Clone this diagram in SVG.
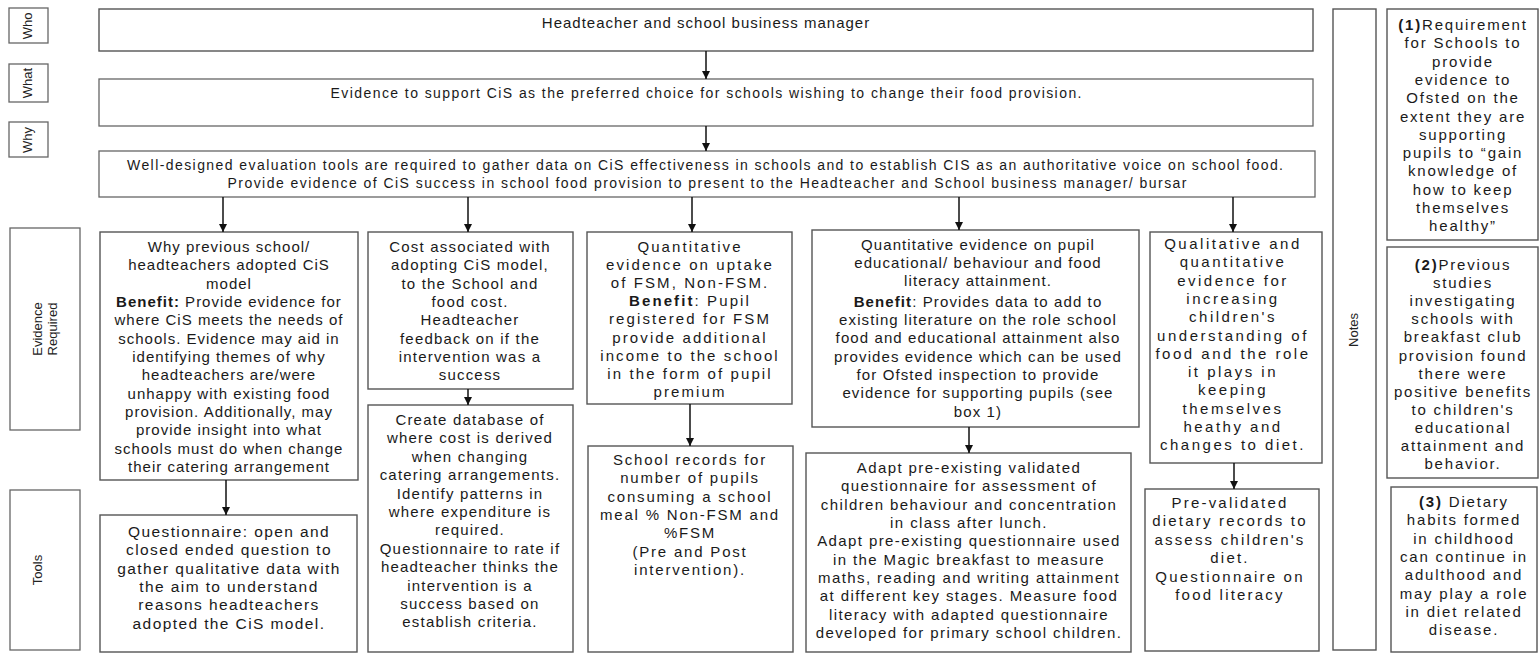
<svg xmlns="http://www.w3.org/2000/svg" width="1539" height="653" viewBox="0 0 1539 653">
<style>
.bg{fill:#fff}
.box{fill:#fff;stroke:#555;stroke-width:1.4}
.lbox{fill:#fff;stroke:#666;stroke-width:1.3}
.lt{font-family:"Liberation Sans Narrow","Liberation Sans",Arial,sans-serif;font-size:13px;fill:#222;text-anchor:middle}
.t{font-family:"Liberation Sans",Arial,sans-serif;font-size:15px;fill:#1a1a1a;text-anchor:middle;letter-spacing:1px}
.b{font-weight:bold}
.conn{stroke:#111;stroke-width:1.5;fill:none;marker-end:url(#ah)}
</style>
<defs>
<marker id="ah" viewBox="0 0 10 10" refX="10" refY="5" markerWidth="8" markerHeight="8" markerUnits="userSpaceOnUse" orient="auto">
<path d="M0,0 L10,5 L0,10 z" fill="#111"/>
</marker>
</defs>
<rect class="bg" x="0" y="0" width="1539" height="653"/>

<g id="label-who"><rect class="lbox" x="9" y="8" width="39" height="35"/><text class="lt" transform="translate(32,26) rotate(-90)">Who</text></g>
<g id="label-what"><rect class="lbox" x="9" y="64" width="39" height="38"/><text class="lt" transform="translate(32,83) rotate(-90)">What</text></g>
<g id="label-why"><rect class="lbox" x="9" y="122" width="39" height="35"/><text class="lt" transform="translate(32,140) rotate(-90)">Why</text></g>
<g id="label-evidence"><rect class="lbox" x="10" y="228" width="70" height="202"/><text class="lt" transform="translate(42,329) rotate(-90)">Evidence</text><text class="lt" transform="translate(57,329) rotate(-90)">Required</text></g>
<g id="label-tools"><rect class="lbox" x="10" y="490" width="70" height="160"/><text class="lt" transform="translate(42,570) rotate(-90)">Tools</text></g>

<g id="who"><rect class="box" x="99" y="9" width="1214" height="42"/><text class="t" x="706" y="28">Headteacher and school business manager</text></g>
<g id="what"><rect class="lbox" x="99" y="79" width="1214" height="47"/><text class="t" x="706" y="98" style="font-size:14px;letter-spacing:0" textLength="751">Evidence to support CiS as the preferred choice for schools wishing to change their food provision.</text></g>
<g id="why"><rect class="lbox" x="99" y="151" width="1216" height="46"/>
<text class="t" x="705" y="170" style="font-size:14px;letter-spacing:0" textLength="1156">Well-designed evaluation tools are required to gather data on CiS effectiveness in schools and to establish CIS as an authoritative  voice on school food.</text>
<text class="t" x="707" y="188" style="font-size:14px;letter-spacing:0" textLength="959">Provide evidence of CiS success in school food provision to present to the Headteacher and School business manager/ bursar</text></g>

<g id="ev1"><rect class="box" x="100" y="232" width="258" height="248"/>
<text class="t" x="229" y="252"><tspan x="229">Why previous school/</tspan><tspan x="229" dy="18.33">headteachers adopted CiS</tspan><tspan x="229" dy="18.33">model</tspan><tspan x="229" dy="18.33"><tspan class="b">Benefit:</tspan> Provide evidence for</tspan><tspan x="229" dy="18.33">where CiS meets the needs of</tspan><tspan x="229" dy="18.33">schools.  Evidence may aid in</tspan><tspan x="229" dy="18.33">identifying themes of why</tspan><tspan x="229" dy="18.33">headteachers are/were</tspan><tspan x="229" dy="18.33">unhappy with existing food</tspan><tspan x="229" dy="18.33">provision. Additionally, may</tspan><tspan x="229" dy="18.33">provide insight into what</tspan><tspan x="229" dy="18.33">schools must do when change</tspan><tspan x="229" dy="18.33">their catering arrangement</tspan></text></g>

<g id="tool1"><rect class="box" x="100" y="515" width="257" height="137"/>
<text class="t" x="229" y="537" style="font-size:15.5px;letter-spacing:1.4px"><tspan x="229">Questionnaire: open and</tspan><tspan x="229" dy="18.3">closed ended question to</tspan><tspan x="229" dy="18.3">gather qualitative data with</tspan><tspan x="229" dy="18.3">the aim to  understand</tspan><tspan x="229" dy="18.3">reasons headteachers</tspan><tspan x="229" dy="18.3">adopted the CiS model.</tspan></text></g>

<g id="ev2"><rect class="box" x="368" y="232" width="205" height="157"/>
<text class="t" x="470" y="252" style="letter-spacing:1.2px"><tspan x="470">Cost associated with</tspan><tspan x="470" dy="18.3">adopting CiS model,</tspan><tspan x="470" dy="18.3">to the School and</tspan><tspan x="470" dy="18.3">food cost.</tspan><tspan x="470" dy="18.3">Headteacher</tspan><tspan x="470" dy="18.3">feedback on if the</tspan><tspan x="470" dy="18.3">intervention was a</tspan><tspan x="470" dy="18.3">success</tspan></text></g>

<g id="tool2"><rect class="box" x="368" y="405" width="205" height="247"/>
<text class="t" x="470" y="425" style="letter-spacing:1.2px"><tspan x="470">Create database of</tspan><tspan x="470" dy="18.4">where cost is derived</tspan><tspan x="470" dy="18.4">when changing</tspan><tspan x="470" dy="18.4">catering arrangements.</tspan><tspan x="470" dy="18.4">Identify  patterns in</tspan><tspan x="470" dy="18.4">where expenditure is</tspan><tspan x="470" dy="18.4">required.</tspan><tspan x="470" dy="18.4">Questionnaire to rate if</tspan><tspan x="470" dy="18.4">headteacher thinks the</tspan><tspan x="470" dy="18.4">intervention is a</tspan><tspan x="470" dy="18.4">success based on</tspan><tspan x="470" dy="18.4">establish criteria.</tspan></text></g>

<g id="ev3"><rect class="box" x="587" y="232" width="205" height="172"/>
<text class="t" x="690" y="252" style="letter-spacing:2.1px"><tspan x="690">Quantitative</tspan><tspan x="690" dy="18.1">evidence on uptake</tspan><tspan x="690" dy="18.1">of FSM, Non-FSM.</tspan><tspan x="690" dy="18.1"><tspan class="b">Benefit</tspan>: Pupil</tspan><tspan x="690" dy="18.1">registered for FSM</tspan><tspan x="690" dy="18.1">provide additional</tspan><tspan x="690" dy="18.1">income to the school</tspan><tspan x="690" dy="18.1">in the form of pupil</tspan><tspan x="690" dy="18.1">premium</tspan></text></g>

<g id="tool3"><rect class="box" x="588" y="446" width="205" height="206"/>
<text class="t" x="690" y="465" style="letter-spacing:1.8px"><tspan x="690">School records for</tspan><tspan x="690" dy="18.3">number of pupils</tspan><tspan x="690" dy="18.3">consuming a school</tspan><tspan x="690" dy="18.3">meal % Non-FSM and</tspan><tspan x="690" dy="18.3">%FSM</tspan><tspan x="690" dy="18.3">(Pre and Post</tspan><tspan x="690" dy="18.3">intervention).</tspan></text></g>

<g id="ev4"><rect class="box" x="812" y="230" width="327" height="197"/>
<text class="t" x="978" y="250" style="letter-spacing:1.1px"><tspan x="978">Quantitative evidence on pupil</tspan><tspan x="978" dy="18.2">educational/ behaviour and food</tspan><tspan x="978" dy="18.2">literacy attainment.</tspan><tspan x="978" dy="20.5"><tspan class="b">Benefit</tspan>: Provides data to add to</tspan><tspan x="978" dy="18.2">existing literature on the role school</tspan><tspan x="978" dy="18.2">food and educational attainment also</tspan><tspan x="978" dy="18.4">provides evidence which can be used</tspan><tspan x="978" dy="18.2">for Ofsted inspection to provide</tspan><tspan x="978" dy="18.2">evidence for supporting pupils (see</tspan><tspan x="978" dy="18.6">box 1)</tspan></text></g>

<g id="tool4"><rect class="box" x="806" y="453" width="325" height="199"/>
<text class="t" x="969" y="473" style="letter-spacing:1.4px"><tspan x="969">Adapt pre-existing validated</tspan><tspan x="969" dy="18.3">questionnaire for assessment of</tspan><tspan x="969" dy="18.3">children behaviour and concentration</tspan><tspan x="969" dy="18.3">in class after lunch.</tspan><tspan x="969" dy="18.5">Adapt pre-existing questionnaire used</tspan><tspan x="969" dy="18.3">in the Magic breakfast to measure</tspan><tspan x="969" dy="18.3">maths, reading and writing attainment</tspan><tspan x="969" dy="18.3">at different key stages. Measure food</tspan><tspan x="969" dy="18.3">literacy with adapted questionnaire</tspan><tspan x="969" dy="18.3">developed for primary school children.</tspan></text></g>

<g id="ev5"><rect class="box" x="1150" y="232" width="172" height="231"/>
<text class="t" x="1233" y="249" style="letter-spacing:2.5px"><tspan x="1233">Qualitative and</tspan><tspan x="1233" dy="18.3">quantitative</tspan><tspan x="1233" dy="18.3">evidence for</tspan><tspan x="1233" dy="18.3">increasing</tspan><tspan x="1233" dy="18.3">children's</tspan><tspan x="1233" dy="18.3">understanding of</tspan><tspan x="1233" dy="18.3">food and the role</tspan><tspan x="1233" dy="18.3">it plays in</tspan><tspan x="1233" dy="18.3">keeping</tspan><tspan x="1233" dy="18.3">themselves</tspan><tspan x="1233" dy="18.3">heathy and</tspan><tspan x="1233" dy="18.3">changes to diet.</tspan></text></g>

<g id="tool5"><rect class="box" x="1145" y="489" width="174" height="162"/>
<text class="t" x="1230" y="508" style="letter-spacing:2.2px"><tspan x="1230">Pre-validated</tspan><tspan x="1230" dy="18.4">dietary records to</tspan><tspan x="1230" dy="18.4">assess  children's</tspan><tspan x="1230" dy="18.4">diet.</tspan><tspan x="1230" dy="18.4">Questionnaire on</tspan><tspan x="1230" dy="18.4">food literacy</tspan></text></g>

<g id="notes-col"><rect class="box" x="1333" y="9" width="43" height="641"/><text class="lt" transform="translate(1358,330) rotate(-90)">Notes</text></g>

<g id="note1"><rect class="box" x="1387" y="9" width="151" height="231"/>
<text class="t" x="1463" y="30" style="letter-spacing:1.8px"><tspan x="1463"><tspan class="b">(1)</tspan>Requirement</tspan><tspan x="1463" dy="18.3">for Schools to</tspan><tspan x="1463" dy="18.3">provide</tspan><tspan x="1463" dy="18.3">evidence to</tspan><tspan x="1463" dy="18.3">Ofsted on the</tspan><tspan x="1463" dy="18.3">extent they are</tspan><tspan x="1463" dy="18.3">supporting</tspan><tspan x="1463" dy="18.3">pupils to “gain</tspan><tspan x="1463" dy="18.3">knowledge of</tspan><tspan x="1463" dy="18.3">how to keep</tspan><tspan x="1463" dy="18.3">themselves</tspan><tspan x="1463" dy="18.3">healthy”</tspan></text></g>

<g id="note2"><rect class="box" x="1387" y="247" width="151" height="231"/>
<text class="t" x="1463" y="270" style="letter-spacing:1.8px"><tspan x="1463"><tspan class="b">(2)</tspan>Previous</tspan><tspan x="1463" dy="18.1">studies</tspan><tspan x="1463" dy="18.1">investigating</tspan><tspan x="1463" dy="18.1">schools with</tspan><tspan x="1463" dy="18.1">breakfast club</tspan><tspan x="1463" dy="18.1">provision found</tspan><tspan x="1463" dy="18.1">there were</tspan><tspan x="1463" dy="18.1">positive benefits</tspan><tspan x="1463" dy="18.1">to children's</tspan><tspan x="1463" dy="18.1">educational</tspan><tspan x="1463" dy="18.1">attainment and</tspan><tspan x="1463" dy="18.1">behavior.</tspan></text></g>

<g id="note3"><rect class="box" x="1391" y="487" width="146" height="165"/>
<text class="t" x="1464" y="507" style="letter-spacing:1.8px"><tspan x="1464"><tspan class="b">(3)</tspan> Dietary</tspan><tspan x="1464" dy="18.3">habits formed</tspan><tspan x="1464" dy="18.3">in childhood</tspan><tspan x="1464" dy="18.3">can continue in</tspan><tspan x="1464" dy="18.3">adulthood and</tspan><tspan x="1464" dy="18.3">may play a role</tspan><tspan x="1464" dy="18.3">in diet related</tspan><tspan x="1464" dy="18.3">disease.</tspan></text></g>

<g id="connectors">
<path class="conn" d="M706,51 V79"/>
<path class="conn" d="M706,126 V151"/>
<path class="conn" d="M223,197 V232"/>
<path class="conn" d="M468,197 V232"/>
<path class="conn" d="M692,197 V232"/>
<path class="conn" d="M959,197 V230"/>
<path class="conn" d="M1233,197 V232"/>
<path class="conn" d="M226,480 V515"/>
<path class="conn" d="M468,389 V405"/>
<path class="conn" d="M690,404 V446"/>
<path class="conn" d="M969,427 V453"/>
<path class="conn" d="M1234,463 V489"/>
</g>
</svg>
